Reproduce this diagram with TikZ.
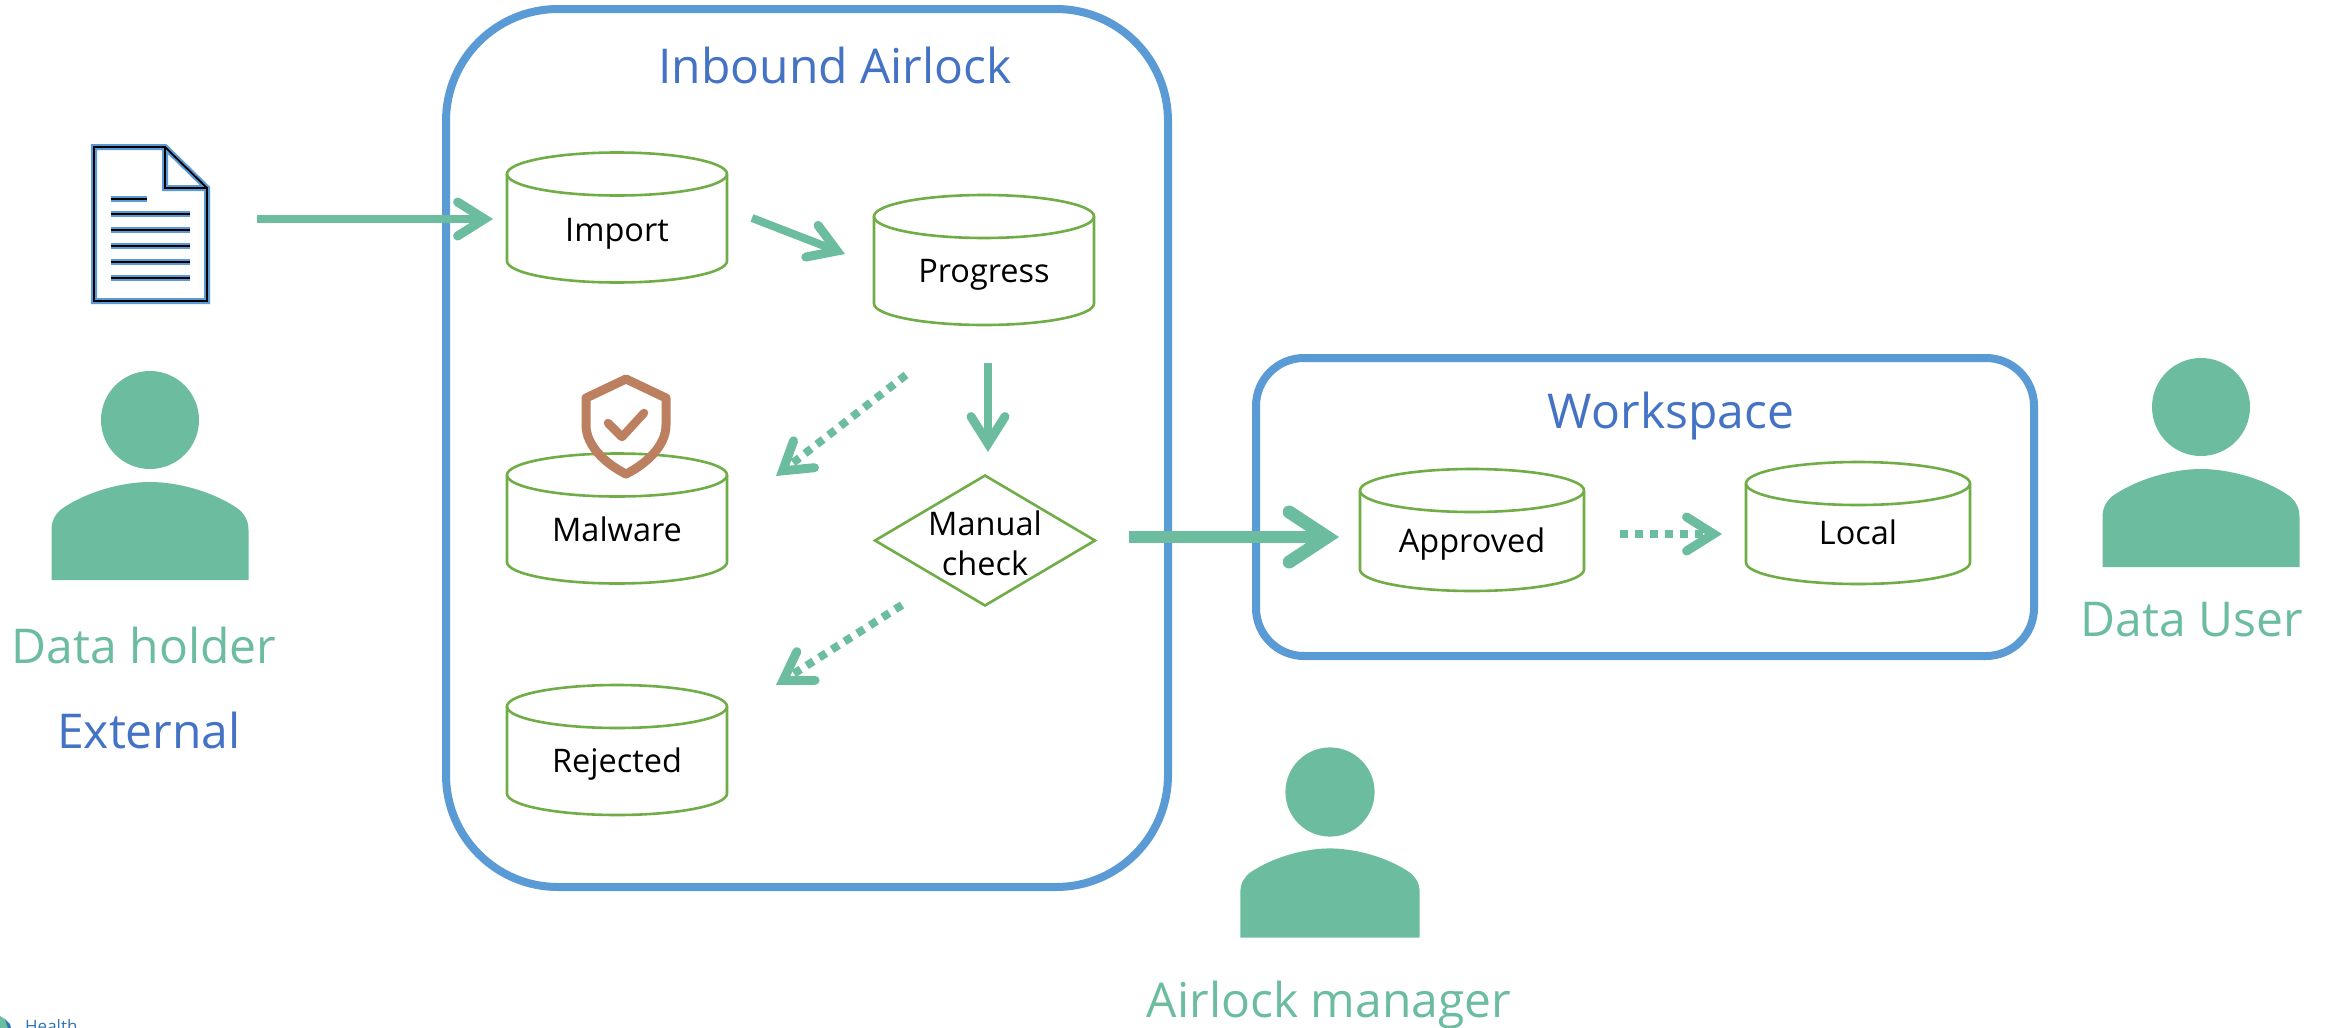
\documentclass[tikz,border=0pt]{standalone}
\usepackage{fontspec}
\setmainfont{Open Sans}
\usetikzlibrary{arrows.meta,shapes.geometric}
\definecolor{mint}{HTML}{6CBDA0}
\definecolor{frameblue}{HTML}{5B9BD5}
\definecolor{titleblue}{HTML}{4472C4}
\definecolor{leaf}{HTML}{70AD47}
\definecolor{clay}{HTML}{BC7F5F}
\definecolor{logoblue}{HTML}{2E75B6}
\newcommand{\fs}[1]{\fontsize{#1}{#1}\selectfont}
\newcommand{\personfig}[3]{%
  \begin{scope}[shift={(#1,#2)},scale=#3]
    \fill[mint] (0,0) circle[radius=49];
    \fill[mint] (-98.5,160) -- (-98.5,110) .. controls (-98.5,100) and (-94,93) .. (-87,88)
      .. controls (-60,70) and (-25,62) .. (0,62)
      .. controls (25,62) and (60,70) .. (87,88)
      .. controls (94,93) and (98.5,100) .. (98.5,110) -- (98.5,160) -- cycle;
  \end{scope}}
% name, cx, cy, half width, half height, text, text drop
\newcommand{\storenode}[7]{%
  \node[rectangle,inner sep=0pt,minimum width=2*#4 pt,minimum height=2*#5 pt,
    label={[storetext,yshift=-#7pt]center:#6}] (#1) at (#2,#3) {};
  \begin{scope}[shift={(#1.center)}]
    \draw[storeline] (0,-#5+21.5) ellipse[x radius=#4,y radius=21.5];
    \draw[storeline] (-#4,-#5+21.5) -- (-#4,#5-21.5)
      arc[start angle=180,end angle=0,x radius=#4,y radius=21.5] -- (#4,-#5+21.5);
  \end{scope}}
\tikzset{
  x=1pt,y=-1pt,
  frame/.style={rectangle,draw=frameblue,line width=8pt,rounded corners=#1,inner sep=0pt},
  storeline/.style={draw=leaf,line width=2.6pt},
  storetext/.style={inner sep=0pt,font=\fs{32.5},text=black},
  check/.style={diamond,draw=leaf,line width=2.6pt,aspect=1.68,minimum width=221pt,
    minimum height=131pt,inner sep=0pt,
    label={[inner sep=0pt,align=center,text=black,yshift=-2.5pt,
      font=\fontsize{32.5}{40}\selectfont]center:#1}},
  title/.style={text=titleblue,font=\fs{#1},inner sep=0pt},
  role/.style={text=mint,font=\fs{#1},inner sep=0pt},
  flow/.style={draw=mint,line width=8pt,
    -{Straight Barb[length=27pt,width=34pt,line width=9pt,line cap=round,line join=miter]}},
  bigflow/.style={draw=mint,line width=12pt,
    -{Straight Barb[length=38pt,width=50pt,line width=13pt,line cap=round,line join=miter]}},
  dotflow/.style={flow,dash pattern=on 8pt off 7pt},
  docline/.style={draw=frameblue,line width=6pt},
  docink/.style={draw=black,line width=1.8pt},
}
\begin{document}
\begin{tikzpicture}
\useasboundingbox[fill=white] (0,0) rectangle (2330,1028);
% containers
\node[frame=112pt,minimum width=722pt,minimum height=878pt] (airlockbox) at (807,448) {};
\node[frame=48pt,minimum width=778pt,minimum height=298pt] (workspacebox) at (1645,507) {};
\node[title=48] (airlocktitle) at (835,65) {Inbound Airlock};
\node[title=48] (workspacetitle) at (1671,416) {Workspace};
% stores
\storenode{import}{617}{217.5}{110}{65}{Import}{16}
\storenode{progress}{984}{260}{110}{65}{Progress}{14.5}
\storenode{malware}{617}{518.5}{110}{65}{Malware}{10.5}
\storenode{rejected}{617}{750}{110}{65}{Rejected}{14.5}
\storenode{approved}{1472}{530}{112}{61}{Approved}{14}
\storenode{local}{1858}{523}{112}{61}{Local}{9}
\node[check={Manual\\check}] (manual) at (985,540.5) {};
% shield
\draw[clay,line width=9pt,line join=round] (626,379) -- (586,398) -- (586,425)
  .. controls (586,446) and (606,464) .. (626,474)
  .. controls (646,464) and (666,446) .. (666,425) -- (666,398) -- cycle;
\draw[clay,line width=8.5pt,line cap=round,line join=round] (608,423) -- (622,437) -- (644,413);
% document
\coordinate (doc) at (150,224);
\foreach \sty in {docline,docink}{
  \draw[\sty,line join=miter] (94,147) -- (165,147) -- (207,188) -- (207,301) -- (94,301) -- cycle
    (165,147) -- (165,188) -- (207,188);
  \draw[\sty] (111,199) -- (147,199) (111,214) -- (190,214) (111,230) -- (190,230)
    (111,246) -- (190,246) (111,262) -- (190,262) (111,278) -- (190,278);
}
% people
\personfig{150}{420}{1}
\personfig{2201}{407}{1}
\personfig{1330}{792}{0.91}
\node[role=48] (holder) at (144,645) {Data holder};
\node[title=48] (external) at (149,730) {External};
\node[role=48] (user) at (2192,620) {Data User};
\node[role=48] (manager) at (1329,1005) {Airlock manager};
% connectors
\draw[flow] ([shift={(107,-5)}]doc) -- ([shift={(-124,1.5)}]import.center);
\draw[flow] ([shift={(135,0.5)}]import.center) -- ([shift={(-139,-6)}]progress.center);
\draw[flow] ([shift={(4,103)}]progress.center) -- ([shift={(3,-88.5)}]manual.center);
\draw[dotflow] ([shift={(-78,115)}]progress.center) -- ([shift={(159,-42.5)}]malware.center);
\draw[dotflow] ([shift={(-83,64.5)}]manual.center) -- ([shift={(159,-65)}]rejected.center);
\draw[bigflow] ([shift={(144,-3.5)}]manual.center) -- ([shift={(-133,7)}]approved.center);
\draw[dotflow] ([shift={(148,4)}]approved.center) -- ([shift={(-136,11)}]local.center);
% logo fragment
\fill[mint] (0,1016) -- (5,1019) -- (10,1028) -- (0,1028) -- cycle;
\fill[logoblue] (5,1019) -- (10,1024) -- (11,1028) -- (8,1028) -- cycle;
\node[anchor=north west,inner sep=0pt,text=logoblue,font=\fs{17}] (logo) at (25,1019) {Health};
\end{tikzpicture}
\end{document}
